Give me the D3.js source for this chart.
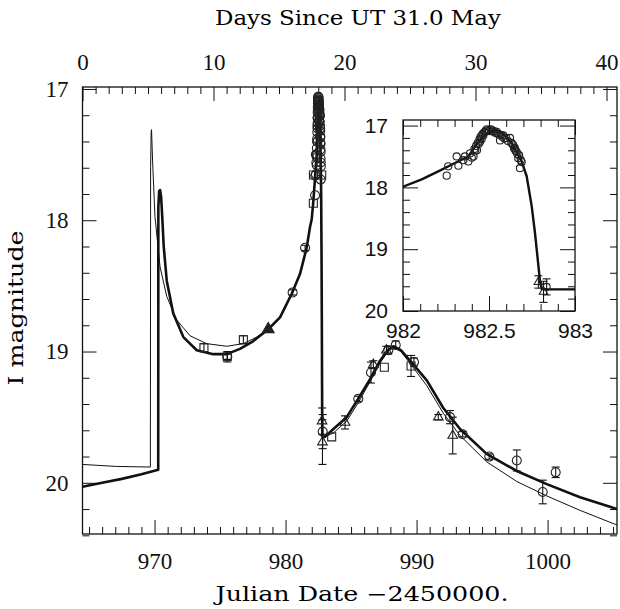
<!DOCTYPE html>
<html>
<head>
<meta charset="utf-8">
<script src="https://cdn.jsdelivr.net/npm/d3@7"></script>
<style>
    body { margin: 0; background: #fff; }
</style>
</head>
<body>
<div id="chart"></div>
<script>
// model light curves: [JD - 2450000, I mag]
var thickModel = [
    [964.5, 20.03], [966.0, 20.0], [967.5, 19.97], [969.0, 19.935], [970.28, 19.9],
    [970.29, 17.9], [970.35, 17.78], [970.42, 17.77], [970.5, 17.82], [970.6, 18.0],
    [970.7, 18.2], [970.93, 18.46], [971.43, 18.71], [972.2, 18.89], [973.22, 18.99],
    [974.48, 19.02], [975.51, 19.02], [976.52, 18.98], [977.54, 18.92], [978.68, 18.83],
    [979.58, 18.74], [980.47, 18.56], [981.1, 18.41], [981.61, 18.21], [981.87, 18.05],
    [982.0, 17.99], [982.109, 17.87], [982.205, 17.74], [982.302, 17.605], [982.38, 17.5],
    [982.419, 17.34], [982.458, 17.2], [982.496, 17.11], [982.525, 17.08], [982.574, 17.12],
    [982.632, 17.28], [982.69, 17.58], [982.719, 17.82], [982.748, 18.3], [982.767, 18.73],
    [982.787, 19.26], [982.797, 19.53], [982.806, 19.64], [982.835, 19.65], [983.0, 19.65],
    [983.65, 19.59], [984.67, 19.5], [985.55, 19.36], [986.45, 19.21], [987.21, 19.07],
    [987.8, 18.99], [988.23, 18.96], [988.8, 18.99], [989.5, 19.07], [990.78, 19.22],
    [992.04, 19.43], [993.32, 19.59], [995.35, 19.78], [997.65, 19.91], [999.94, 20.01],
    [1002.48, 20.11], [1005.0, 20.19], [1005.3, 20.2]
];
var thinModel = [
    [964.5, 19.86], [967.0, 19.875], [969.68, 19.88], [969.7, 17.6], [969.74, 17.33],
    [969.77, 17.31], [969.85, 17.55], [970.03, 17.97], [970.42, 18.355], [970.93, 18.58],
    [971.69, 18.76], [972.71, 18.88], [973.98, 18.94], [975.51, 18.96], [976.78, 18.94],
    [977.8, 18.89], [978.68, 18.83], [979.58, 18.74], [980.47, 18.56], [981.1, 18.41],
    [981.61, 18.21], [981.87, 18.05], [982.0, 17.99], [982.109, 17.87], [982.205, 17.74],
    [982.302, 17.605], [982.38, 17.5], [982.419, 17.34], [982.458, 17.2], [982.496, 17.11],
    [982.525, 17.08], [982.574, 17.12], [982.632, 17.28], [982.69, 17.58], [982.719, 17.82],
    [982.748, 18.3], [982.767, 18.73], [982.787, 19.26], [982.797, 19.53], [982.806, 19.64],
    [982.835, 19.65], [983.0, 19.65], [983.65, 19.62], [984.67, 19.53], [985.55, 19.39],
    [986.45, 19.23], [987.21, 19.09], [987.8, 19.0], [988.23, 18.97], [988.8, 19.0],
    [989.5, 19.09], [990.78, 19.26], [992.04, 19.47], [993.32, 19.64], [995.35, 19.84],
    [997.65, 19.99], [999.94, 20.1], [1002.48, 20.21], [1005.0, 20.31], [1005.3, 20.32]
];

// photometry: [JD - 2450000, I mag, error]
var circles = [
    [975.55, 19.04, 0.04], [980.54, 18.55, 0.02], [981.49, 18.21, 0.02], [985.55, 19.36, 0.02],
    [986.52, 19.16, 0.08], [987.84, 18.99, 0.03], [988.41, 18.95, 0.03], [989.8, 19.08, 0.03],
    [992.55, 19.5, 0.05], [993.52, 19.63, 0.02], [995.55, 19.8, 0.02], [997.65, 19.83, 0.08],
    [999.63, 20.07, 0.09], [1000.62, 19.92, 0.04]
];
var squares = [
    [973.77, 18.97, 0.03], [975.55, 19.04, 0.02], [976.78, 18.91, 0.03], [982.12, 17.87, 0],
    [982.13, 17.655, 0], [982.76, 17.655, 0], [983.52, 19.65, 0], [987.54, 19.12, 0],
    [989.58, 19.11, 0.08]
];
var triangles = [
    [984.54, 19.54, 0.05], [986.7, 19.1, 0.03], [987.7, 18.99, 0.03], [991.66, 19.5, 0.02],
    [992.76, 19.64, 0.14]
];
var filledPoints = [[978.68, 18.83, 0]];

// dense coverage of the caustic peak (also drawn in the inset)
var peakCircles = [
    [982.254, 17.81, 0], [982.263, 17.66, 0], [982.312, 17.5, 0], [982.322, 17.65, 0],
    [982.351, 17.56, 0], [982.36, 17.5, 0], [982.38, 17.58, 0], [982.39, 17.45, 0],
    [982.4, 17.52, 0], [982.41, 17.5, 0], [982.415, 17.38, 0], [982.42, 17.4, 0],
    [982.425, 17.33, 0], [982.43, 17.4, 0], [982.435, 17.28, 0], [982.44, 17.3, 0],
    [982.445, 17.22, 0], [982.448, 17.26, 0], [982.452, 17.18, 0], [982.457, 17.22, 0],
    [982.462, 17.14, 0], [982.467, 17.16, 0], [982.472, 17.11, 0], [982.477, 17.1, 0],
    [982.482, 17.08, 0], [982.487, 17.06, 0], [982.493, 17.09, 0], [982.5, 17.08, 0],
    [982.508, 17.06, 0], [982.516, 17.07, 0], [982.523, 17.1, 0], [982.53, 17.09, 0],
    [982.538, 17.12, 0], [982.545, 17.1, 0], [982.55, 17.13, 0], [982.555, 17.14, 0],
    [982.564, 17.24, 0], [982.57, 17.15, 0], [982.576, 17.18, 0], [982.583, 17.16, 0],
    [982.59, 17.21, 0], [982.6, 17.2, 0], [982.61, 17.25, 0], [982.622, 17.2, 0],
    [982.63, 17.28, 0], [982.636, 17.3, 0], [982.641, 17.32, 0], [982.646, 17.37, 0],
    [982.65, 17.36, 0], [982.655, 17.41, 0], [982.66, 17.42, 0], [982.665, 17.46, 0],
    [982.67, 17.53, 0], [982.675, 17.48, 0], [982.68, 17.69, 0], [982.685, 17.56, 0],
    [982.69, 17.59, 0], [982.835, 19.61, 0.13]
];
var peakTriangles = [[982.787, 19.53, 0.1], [982.817, 19.69, 0.17]];

var jdTicks = [970, 980, 990, 1000];
var dayTicks = [0, 10, 20, 30, 40];
var magTicks = [17, 18, 19, 20];
var insetJdTicks = [982, 982.5, 983];

var width = 620, height = 609;
var serif = "'Liberation Serif', 'Times New Roman', serif";
var titleFont = "'DejaVu Serif', serif";
var sans = "'Liberation Sans', Arial, sans-serif";

var svg = d3.select('#chart').append('svg')
    .attr('width', width)
    .attr('height', height);

var frame = {left: 82.5, right: 617, top: 87, bottom: 534};
var x = d3.scaleLinear().domain([964.5, 1005.3]).range([frame.left, frame.right]);
var xDays = d3.scaleLinear().domain([0, 40.8]).range([frame.left, frame.right]);
var y = d3.scaleLinear().domain([16.985, 20.39]).range([frame.top, frame.bottom]);

var inset = {left: 403, right: 575, top: 120, bottom: 311};
var ix = d3.scaleLinear().domain([982, 983]).range([inset.left, inset.right]);
var iy = d3.scaleLinear().domain([16.91, 20]).range([inset.top, inset.bottom]);

function minorTicks(lo, hi, step, majors) {
    return d3.range(lo, hi + step / 2, step)
        .map(function (v) { return +v.toFixed(3); })
        .filter(function (v) { return majors.indexOf(v) < 0; });
}

function drawAxis(g, axis, font, size) {
    g.call(axis);
    g.attr('font-family', null);
    g.select('.domain').remove();
    g.selectAll('line').attr('stroke', '#111').attr('stroke-width', 1);
    g.selectAll('text').style('font-family', font).attr('font-size', size).attr('fill', '#111');
}

// ---------- main panel ----------
var main = svg.append('g');
main.append('clipPath').attr('id', 'mainClip').append('rect')
    .attr('x', frame.left).attr('y', frame.top)
    .attr('width', frame.right - frame.left).attr('height', frame.bottom - frame.top);

drawAxis(main.append('g').attr('transform', 'translate(0,' + frame.bottom + ')'),
    d3.axisBottom(x).tickValues(jdTicks).tickSize(-14).tickPadding(19).tickFormat(d3.format('d')), serif, 23);
drawAxis(main.append('g').attr('transform', 'translate(0,' + frame.bottom + ')'),
    d3.axisBottom(x).tickValues(minorTicks(965, 1005, 1, jdTicks)).tickSize(-7).tickFormat(''), serif, 23);
drawAxis(main.append('g').attr('transform', 'translate(0,' + frame.top + ')'),
    d3.axisTop(xDays).tickValues(dayTicks).tickSize(-14).tickPadding(17).tickFormat(d3.format('d')), serif, 23);
drawAxis(main.append('g').attr('transform', 'translate(0,' + frame.top + ')'),
    d3.axisTop(xDays).tickValues(minorTicks(1, 40, 1, dayTicks)).tickSize(-7).tickFormat(''), serif, 23);
drawAxis(main.append('g').attr('transform', 'translate(' + frame.left + ',0)'),
    d3.axisLeft(y).tickValues(magTicks).tickSize(-14).tickPadding(14).tickFormat(d3.format('d')), serif, 23);
drawAxis(main.append('g').attr('transform', 'translate(' + frame.left + ',0)'),
    d3.axisLeft(y).tickValues(minorTicks(17, 20.4, 0.2, magTicks)).tickSize(-7).tickFormat(''), serif, 23);
drawAxis(main.append('g').attr('transform', 'translate(' + frame.right + ',0)'),
    d3.axisRight(y).tickValues(magTicks).tickSize(-14).tickFormat(''), serif, 23);
drawAxis(main.append('g').attr('transform', 'translate(' + frame.right + ',0)'),
    d3.axisRight(y).tickValues(minorTicks(17, 20.4, 0.2, magTicks)).tickSize(-7).tickFormat(''), serif, 23);

main.append('rect')
    .attr('x', frame.left).attr('y', frame.top)
    .attr('width', frame.right - frame.left).attr('height', frame.bottom - frame.top)
    .attr('fill', 'none').attr('stroke', '#111').attr('stroke-width', 1.3);

main.append('text').attr('x', 358).attr('y', 25)
    .attr('text-anchor', 'middle').style('font-family', titleFont).attr('font-size', 20)
    .attr('textLength', 286).attr('lengthAdjust', 'spacingAndGlyphs')
    .text('Days Since UT 31.0 May');
main.append('text').attr('x', 362).attr('y', 601)
    .attr('text-anchor', 'middle').style('font-family', titleFont).attr('font-size', 20)
    .attr('textLength', 293).attr('lengthAdjust', 'spacingAndGlyphs')
    .text('Julian Date \u22122450000.');
main.append('text')
    .attr('transform', 'translate(23,' + 308 + ') rotate(-90)')
    .attr('text-anchor', 'middle').style('font-family', titleFont).attr('font-size', 20)
    .attr('textLength', 155).attr('lengthAdjust', 'spacingAndGlyphs')
    .text('I magnitude');

// ---------- plotting helpers ----------
function drawModel(g, xs, ys, data, w) {
    g.append('path').datum(data)
        .attr('fill', 'none').attr('stroke', '#111').attr('stroke-width', w)
        .attr('stroke-linejoin', 'round')
        .attr('d', d3.line().x(function (d) { return xs(d[0]); }).y(function (d) { return ys(d[1]); }));
}

function drawErrors(g, xs, ys, data, cap) {
    var e = g.selectAll(null).data(data.filter(function (d) { return d[2] > 0; })).enter().append('g');
    e.append('line')
        .attr('x1', function (d) { return xs(d[0]); }).attr('x2', function (d) { return xs(d[0]); })
        .attr('y1', function (d) { return ys(d[1] - d[2]); }).attr('y2', function (d) { return ys(d[1] + d[2]); });
    e.append('line')
        .attr('x1', function (d) { return xs(d[0]) - cap; }).attr('x2', function (d) { return xs(d[0]) + cap; })
        .attr('y1', function (d) { return ys(d[1] - d[2]); }).attr('y2', function (d) { return ys(d[1] - d[2]); });
    e.append('line')
        .attr('x1', function (d) { return xs(d[0]) - cap; }).attr('x2', function (d) { return xs(d[0]) + cap; })
        .attr('y1', function (d) { return ys(d[1] + d[2]); }).attr('y2', function (d) { return ys(d[1] + d[2]); });
    e.selectAll('line').attr('stroke', '#111').attr('stroke-width', 1.1);
}

function drawMarks(g, xs, ys, data, type, size, fill) {
    var sym = d3.symbol().type(type).size(size);
    g.selectAll(null).data(data).enter().append('path')
        .attr('transform', function (d) { return 'translate(' + xs(d[0]) + ',' + ys(d[1]) + ')'; })
        .attr('d', sym)
        .attr('fill', fill).attr('stroke', '#222').attr('stroke-width', 1.1);
}

var plot = main.append('g').attr('clip-path', 'url(#mainClip)');
drawModel(plot, x, y, thinModel, 1);
drawModel(plot, x, y, thickModel, 2.6);
[circles, squares, triangles, peakCircles, peakTriangles].forEach(function (s) { drawErrors(plot, x, y, s, 4); });
drawMarks(plot, x, y, circles, d3.symbolCircle, 64, 'none');
drawMarks(plot, x, y, peakCircles, d3.symbolCircle, 64, 'none');
drawMarks(plot, x, y, squares, d3.symbolSquare, 64, 'none');
drawMarks(plot, x, y, triangles, d3.symbolTriangle, 40, 'none');
drawMarks(plot, x, y, peakTriangles, d3.symbolTriangle, 40, 'none');
drawMarks(plot, x, y, filledPoints, d3.symbolTriangle, 60, '#222');

// ---------- inset ----------
var ins = svg.append('g');
ins.append('rect')
    .attr('x', inset.left).attr('y', inset.top)
    .attr('width', inset.right - inset.left).attr('height', inset.bottom - inset.top)
    .attr('fill', '#fff');
ins.append('clipPath').attr('id', 'insetClip').append('rect')
    .attr('x', inset.left).attr('y', inset.top)
    .attr('width', inset.right - inset.left).attr('height', inset.bottom - inset.top);

var iplot = ins.append('g').attr('clip-path', 'url(#insetClip)');
drawModel(iplot, ix, iy, thinModel, 1);
drawModel(iplot, ix, iy, thickModel, 2.4);
drawErrors(iplot, ix, iy, peakCircles, 4);
drawErrors(iplot, ix, iy, peakTriangles, 4);
drawMarks(iplot, ix, iy, peakCircles, d3.symbolCircle, 40, 'none');
drawMarks(iplot, ix, iy, peakTriangles, d3.symbolTriangle, 32, 'none');

var insetMinorX = minorTicks(982, 983, 0.1, insetJdTicks);
var insetMinorY = minorTicks(17, 20, 0.2, magTicks);
drawAxis(ins.append('g').attr('transform', 'translate(0,' + inset.bottom + ')'),
    d3.axisBottom(ix).tickValues(insetJdTicks).tickSize(-15).tickPadding(12).tickFormat(d3.format('')), sans, 21);
drawAxis(ins.append('g').attr('transform', 'translate(0,' + inset.bottom + ')'),
    d3.axisBottom(ix).tickValues(insetMinorX).tickSize(-7).tickFormat(''), sans, 21);
drawAxis(ins.append('g').attr('transform', 'translate(0,' + inset.top + ')'),
    d3.axisTop(ix).tickValues(insetJdTicks).tickSize(-15).tickFormat(''), sans, 21);
drawAxis(ins.append('g').attr('transform', 'translate(0,' + inset.top + ')'),
    d3.axisTop(ix).tickValues(insetMinorX).tickSize(-7).tickFormat(''), sans, 21);
drawAxis(ins.append('g').attr('transform', 'translate(' + inset.left + ',0)'),
    d3.axisLeft(iy).tickValues(magTicks).tickSize(-15).tickPadding(15).tickFormat(d3.format('d')), sans, 21);
drawAxis(ins.append('g').attr('transform', 'translate(' + inset.left + ',0)'),
    d3.axisLeft(iy).tickValues(insetMinorY).tickSize(-7).tickFormat(''), sans, 21);
drawAxis(ins.append('g').attr('transform', 'translate(' + inset.right + ',0)'),
    d3.axisRight(iy).tickValues(magTicks).tickSize(-15).tickFormat(''), sans, 21);
drawAxis(ins.append('g').attr('transform', 'translate(' + inset.right + ',0)'),
    d3.axisRight(iy).tickValues(insetMinorY).tickSize(-7).tickFormat(''), sans, 21);

ins.append('rect')
    .attr('x', inset.left).attr('y', inset.top)
    .attr('width', inset.right - inset.left).attr('height', inset.bottom - inset.top)
    .attr('fill', 'none').attr('stroke', '#111').attr('stroke-width', 1.3);
</script>
</body>
</html>
